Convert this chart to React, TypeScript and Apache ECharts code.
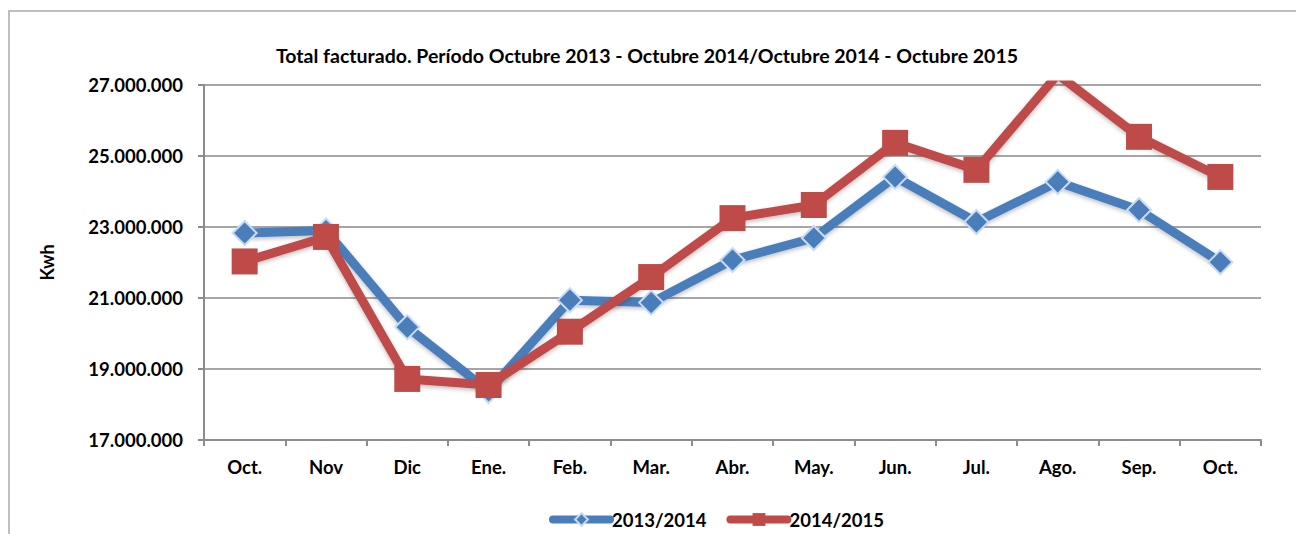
import React, { useEffect, useRef } from "react";
import * as echarts from "echarts";

const categories = ["Oct.", "Nov", "Dic", "Ene.", "Feb.", "Mar.", "Abr.", "May.", "Jun.", "Jul.", "Ago.", "Sep.", "Oct."];
const serie2013 = [22830000, 22900000, 20180000, 18380000, 20940000, 20870000, 22070000, 22690000, 24410000, 23140000, 24270000, 23480000, 22010000];
const serie2014 = [22030000, 22720000, 18720000, 18550000, 20050000, 21590000, 23250000, 23620000, 25370000, 24610000, 27300000, 25540000, 24410000];
const seriesNames = ["2013/2014", "2014/2015"];
const titleText = "Total facturado. Período Octubre 2013 - Octubre 2014/Octubre 2014 - Octubre 2015";

const FONT = "Lato";

function fmt(v: number): string {
  return String(Math.round(v)).replace(/\B(?=(\d{3})+(?!\d))/g, ".");
}

export default function App() {
  const ref = useRef<HTMLDivElement>(null);
  useEffect(() => {
    if (!ref.current) return;
    const chart = echarts.init(ref.current, undefined, { renderer: "svg" });
    chart.setOption({
      animation: false,
      backgroundColor: "#ffffff",
      textStyle: { fontFamily: FONT },
      graphic: [
        {
          type: "rect",
          shape: { x: 9, y: 11, width: 1400, height: 700 },
          style: { fill: "none", stroke: "#bfbfbf", lineWidth: 2 },
          silent: true,
        },
      ],
      title: {
        text: titleText,
        left: 642,
        textAlign: "center",
        top: 40,
        textStyle: { fontFamily: FONT, fontWeight: "bold", fontSize: 19.5, color: "#000" },
      },
      legend: {
        left: 544,
        top: 505,
        itemWidth: 57,
        itemHeight: 16,
        itemGap: 20,
        lineStyle: { width: 8, cap: "round" },
        textStyle: { fontFamily: FONT, fontWeight: "bold", fontSize: 18.5, color: "#000", padding: [0, 0, 0, -3] },
        data: seriesNames,
      },
      grid: { left: 204, right: 35, top: 85, bottom: 94, containLabel: false },
      xAxis: {
        type: "category",
        data: categories,
        boundaryGap: true,
        axisLine: { show: true, lineStyle: { color: "#8c8c8c", width: 2 } },
        axisTick: { show: true, length: 6, lineStyle: { color: "#8c8c8c", width: 2 } },
        axisLabel: { fontFamily: FONT, fontWeight: "bold", fontSize: 18.5, color: "#000", margin: 17, interval: 0 },
      },
      yAxis: {
        type: "value",
        min: 17000000,
        max: 27000000,
        interval: 2000000,
        name: "Kwh",
        nameLocation: "middle",
        nameRotate: 90,
        nameGap: 148,
        nameTextStyle: { fontFamily: FONT, fontWeight: "bold", fontSize: 18, color: "#000" },
        axisLine: { show: true, lineStyle: { color: "#8c8c8c", width: 2 } },
        axisTick: { show: true, length: 6, lineStyle: { color: "#8c8c8c", width: 2 } },
        axisLabel: { fontFamily: FONT, fontWeight: "bold", fontSize: 18.5, color: "#000", margin: 21, formatter: (v: number) => fmt(v) },
        splitLine: { show: true, lineStyle: { color: "#a6a6a6", width: 2 } },
      },
      series: [
        {
          name: seriesNames[0],
          type: "line",
          data: serie2013,
          symbol: "diamond",
          symbolSize: 24,
          color: "#4A7EBB",
          lineStyle: { width: 9, color: "#4A7EBB", shadowColor: "rgba(0,0,0,0.25)", shadowBlur: 4, shadowOffsetY: 2 },
          itemStyle: { color: "#4A7EBB", borderColor: "#c9dbf2", borderWidth: 2 },
          z: 2,
        },
        {
          name: seriesNames[1],
          type: "line",
          data: serie2014,
          symbol: "rect",
          symbolSize: 26,
          color: "#BE4B48",
          lineStyle: { width: 9, color: "#BE4B48", shadowColor: "rgba(0,0,0,0.25)", shadowBlur: 4, shadowOffsetY: 2 },
          itemStyle: { color: "#BE4B48", borderColor: "#BE4B48", borderWidth: 0 },
          z: 3,
        },
      ],
    });
    return () => chart.dispose();
  }, []);
  return <div ref={ref} style={{ position: "fixed", left: 0, top: 0, width: 1296, height: 534 }} />;
}
